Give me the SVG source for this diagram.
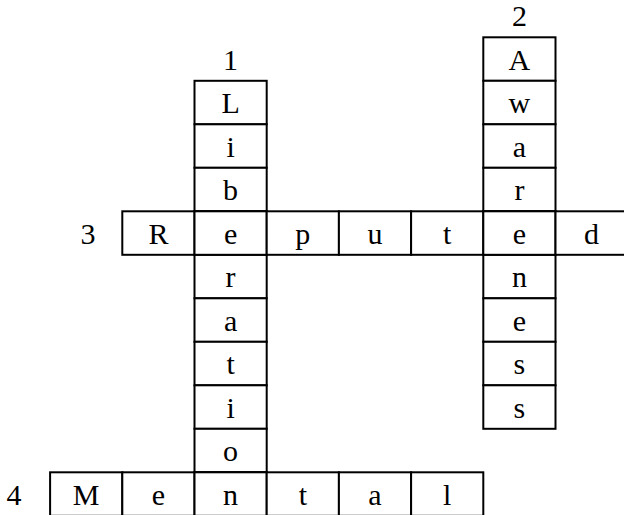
<svg xmlns="http://www.w3.org/2000/svg" width="624" height="515" viewBox="0 0 624 515">
<style>
  .c { fill: #ffffff; stroke: #000000; stroke-width: 2; }
  .t { font-family: "Liberation Serif", "Times New Roman", serif; font-size: 30px; fill: #000000; text-anchor: middle; }
</style>
<rect x="0" y="0" width="624" height="515" fill="#ffffff"/>
<g id="word1-liberation">
  <rect class="c" x="194.5" y="80.8" width="72.2" height="43.5"/>
  <rect class="c" x="194.5" y="124.3" width="72.2" height="43.5"/>
  <rect class="c" x="194.5" y="167.8" width="72.2" height="43.5"/>
  <rect class="c" x="194.5" y="211.3" width="72.2" height="43.5"/>
  <rect class="c" x="194.5" y="254.8" width="72.2" height="43.5"/>
  <rect class="c" x="194.5" y="298.3" width="72.2" height="43.5"/>
  <rect class="c" x="194.5" y="341.8" width="72.2" height="43.5"/>
  <rect class="c" x="194.5" y="385.3" width="72.2" height="43.5"/>
  <rect class="c" x="194.5" y="428.8" width="72.2" height="43.5"/>
  <rect class="c" x="194.5" y="472.3" width="72.2" height="43.5"/>
  <text class="t" x="230.6" y="69.5">1</text>
  <text class="t" x="230.6" y="113">L</text>
  <text class="t" x="230.6" y="156.5">i</text>
  <text class="t" x="230.6" y="200">b</text>
  <text class="t" x="230.6" y="287">r</text>
  <text class="t" x="230.6" y="330.5">a</text>
  <text class="t" x="230.6" y="374">t</text>
  <text class="t" x="230.6" y="417.5">i</text>
  <text class="t" x="230.6" y="461">o</text>
</g>
<g id="word2-awareness">
  <rect class="c" x="483.3" y="37.3" width="72.2" height="43.5"/>
  <rect class="c" x="483.3" y="80.8" width="72.2" height="43.5"/>
  <rect class="c" x="483.3" y="124.3" width="72.2" height="43.5"/>
  <rect class="c" x="483.3" y="167.8" width="72.2" height="43.5"/>
  <rect class="c" x="483.3" y="211.3" width="72.2" height="43.5"/>
  <rect class="c" x="483.3" y="254.8" width="72.2" height="43.5"/>
  <rect class="c" x="483.3" y="298.3" width="72.2" height="43.5"/>
  <rect class="c" x="483.3" y="341.8" width="72.2" height="43.5"/>
  <rect class="c" x="483.3" y="385.3" width="72.2" height="43.5"/>
  <text class="t" x="519.4" y="26">2</text>
  <text class="t" x="519.4" y="69.5">A</text>
  <text class="t" x="519.4" y="113">w</text>
  <text class="t" x="519.4" y="156.5">a</text>
  <text class="t" x="519.4" y="200">r</text>
  <text class="t" x="519.4" y="287">n</text>
  <text class="t" x="519.4" y="330.5">e</text>
  <text class="t" x="519.4" y="374">s</text>
  <text class="t" x="519.4" y="417.5">s</text>
</g>
<g id="word3-reputed">
  <rect class="c" x="122.3" y="211.3" width="72.2" height="43.5"/>
  <rect class="c" x="194.5" y="211.3" width="72.2" height="43.5"/>
  <rect class="c" x="266.7" y="211.3" width="72.2" height="43.5"/>
  <rect class="c" x="338.9" y="211.3" width="72.2" height="43.5"/>
  <rect class="c" x="411.1" y="211.3" width="72.2" height="43.5"/>
  <rect class="c" x="483.3" y="211.3" width="72.2" height="43.5"/>
  <rect class="c" x="555.5" y="211.3" width="72.2" height="43.5"/>
  <text class="t" x="88" y="243.5">3</text>
  <text class="t" x="158.4" y="243.5">R</text>
  <text class="t" x="230.6" y="243.5">e</text>
  <text class="t" x="302.8" y="243.5">p</text>
  <text class="t" x="375" y="243.5">u</text>
  <text class="t" x="447.2" y="243.5">t</text>
  <text class="t" x="519.4" y="243.5">e</text>
  <text class="t" x="591.6" y="243.5">d</text>
</g>
<g id="word4-mental">
  <rect class="c" x="50.1" y="472.3" width="72.2" height="43.5"/>
  <rect class="c" x="122.3" y="472.3" width="72.2" height="43.5"/>
  <rect class="c" x="194.5" y="472.3" width="72.2" height="43.5"/>
  <rect class="c" x="266.7" y="472.3" width="72.2" height="43.5"/>
  <rect class="c" x="338.9" y="472.3" width="72.2" height="43.5"/>
  <rect class="c" x="411.1" y="472.3" width="72.2" height="43.5"/>
  <text class="t" x="14" y="504.5">4</text>
  <text class="t" x="86.2" y="504.5">M</text>
  <text class="t" x="158.4" y="504.5">e</text>
  <text class="t" x="230.6" y="504.5">n</text>
  <text class="t" x="302.8" y="504.5">t</text>
  <text class="t" x="375" y="504.5">a</text>
  <text class="t" x="447.2" y="504.5">l</text>
</g>
</svg>
